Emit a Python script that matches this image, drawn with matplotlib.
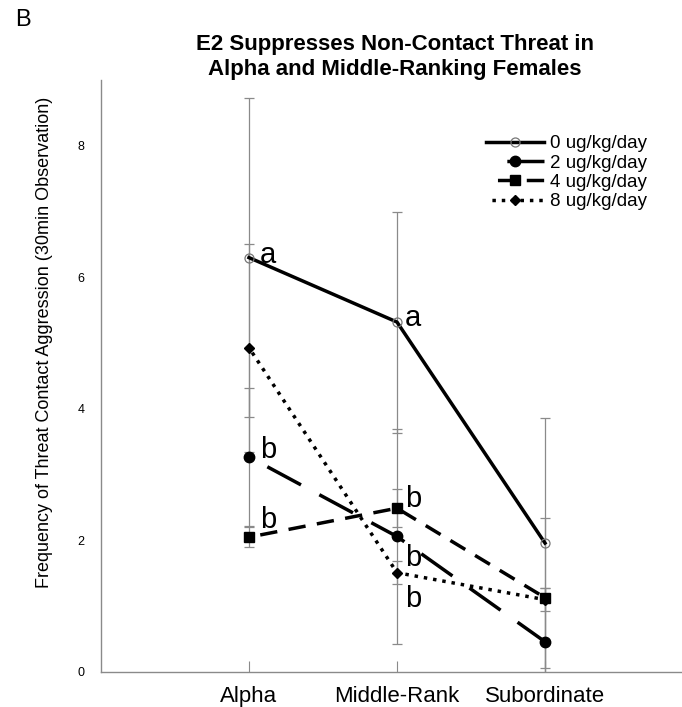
import matplotlib
matplotlib.use("Agg")
import matplotlib.pyplot as plt

plt.rcParams['font.family'] = ['Liberation Sans', 'DejaVu Sans']

categories = ['Alpha', 'Middle-Rank', 'Subordinate']
dose_labels = ['0 ug/kg/day', '2 ug/kg/day', '4 ug/kg/day', '8 ug/kg/day']

# mean threat frequency and error per rank, one list per dose
mean_0 = [6.30, 5.32, 1.96]
err_0 = [2.43, 1.68, 1.90]
mean_2 = [3.27, 2.06, 0.46]
err_2 = [1.05, 1.63, 0.82]
mean_4 = [2.05, 2.49, 1.13]
err_4 = [0.15, 0.29, 1.21]
mean_8 = [4.93, 1.51, 1.10]
err_8 = [1.58, 0.17, 0.18]

# significance letters: (dose index, rank index, letter, dx px, dy px)
sig_letters = [
    (0, 0, 'a', 11, -5),
    (0, 1, 'a', 8, -4),
    (1, 0, 'b', 11, -1),
    (2, 0, 'b', 11, 9),
    (2, 1, 'b', 8, 1),
    (1, 1, 'b', 8, -30),
    (3, 1, 'b', 8, -34),
]

means = [mean_0, mean_2, mean_4, mean_8]
errs = [err_0, err_2, err_4, err_8]

AXIS_GREY = '#8a8a8a'
# dash patterns start on a gap so the lines pull away from the markers
styles = [
    dict(linestyle='-', marker='o', ms=6.5, mfc='none', mec='#777777', mew=0.9),
    dict(linestyle=(11, (11, 6)), marker='o', ms=7.5, mfc='black', mec='black'),
    dict(linestyle=(5, (5, 3.3)), marker='s', ms=6.5, mfc='black', mec='black'),
    dict(linestyle=(1, (1, 1.7)), marker='D', ms=5.5, mfc='black', mec='black'),
]

W, H = 682, 707
fig = plt.figure(figsize=(W / 100, H / 100), dpi=100)
ax = fig.add_axes([101 / W, 1 - 672 / H, 1 - 101 / W, 592 / H])

xs = [1, 2, 3]
for m, e in zip(means, errs):
    ax.errorbar(xs, m, yerr=e, fmt='none', ecolor=AXIS_GREY, elinewidth=0.9,
                capsize=3.5, capthick=0.9, zorder=1)

handles = []
for m, st, lab in zip(means, styles, dose_labels):
    line, = ax.plot(xs, m, color='black', lw=2.5, zorder=3, label=lab, **st)
    handles.append(line)

for d, r, letter, dx, dy in sig_letters:
    ax.annotate(letter, xy=(xs[r], means[d][r]), xytext=(dx, dy),
                textcoords='offset pixels', ha='left', va='baseline',
                fontsize=21, zorder=4)

ax.set_xlim(0, (W - 101) / 148)
ax.set_ylim(0, 9)
ax.set_xticks(xs)
ax.set_xticklabels(categories, fontsize=16)
ax.set_yticks([0, 2, 4, 6, 8])
ax.tick_params(axis='x', direction='in', length=8, color=AXIS_GREY, pad=10)
ax.tick_params(axis='y', direction='in', length=0, labelsize=9, pad=12)
for side in ['top', 'right']:
    ax.spines[side].set_visible(False)
for side in ['left', 'bottom']:
    ax.spines[side].set_color(AXIS_GREY)
    ax.spines[side].set_linewidth(1.0)

ax.legend(handles=handles, loc='upper left', bbox_to_anchor=(486 / W, 1 - 135 / H),
          bbox_transform=fig.transFigure, frameon=False, fontsize=13.5,
          handlelength=3.1, handletextpad=0.3, labelspacing=0.12,
          borderpad=0, borderaxespad=0)

fig.text(45 / W, 1 - 342 / H, 'Frequency of Threat Contact Aggression (30min Observation)',
         rotation=90, ha='center', va='center', fontsize=13)
fig.text(395 / W, 1 - 57 / H,
         'E2 Suppresses Non-Contact Threat in\nAlpha and Middle-Ranking Females',
         ha='center', va='center', fontsize=16, fontweight='bold', linespacing=1.2)
fig.text(15 / W, 1 - 20 / H, 'B', ha='left', va='center', fontsize=17)

fig.savefig('out.png', dpi=100)
